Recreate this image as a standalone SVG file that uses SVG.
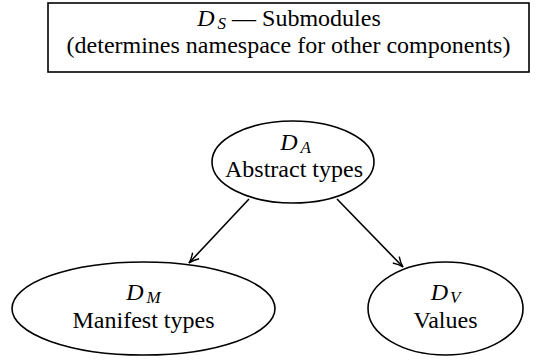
<svg xmlns="http://www.w3.org/2000/svg" width="537" height="360" viewBox="0 0 537 360">
<style>
text{font-family:"Liberation Serif","Times New Roman",serif;font-size:24px;fill:#000;text-anchor:middle}
.s{stroke:#000;stroke-width:1.6;fill:#fff}
.e{stroke:#000;stroke-width:1.6;fill:none}
.i{font-style:italic}
.sub{font-size:17px;font-style:italic}
</style>
<defs>
<marker id="ar" viewBox="0 0 12 12" refX="11" refY="6" markerWidth="12" markerHeight="12" markerUnits="userSpaceOnUse" orient="auto">
<path d="M1,1.5 Q6,5 11,6 Q6,7 1,10.5" fill="none" stroke="#000" stroke-width="1.4"/>
</marker>
</defs>
<rect width="537" height="360" fill="#fff"/>
<g id="ds">
<rect class="s" x="48" y="3" width="481" height="69"/>
<text x="289" y="26"><tspan class="i">D</tspan><tspan class="sub" dx="3" dy="3">S</tspan><tspan dy="-3"> — Submodules</tspan></text>
<text x="288.5" y="53">(determines namespace for other components)</text>
</g>
<g id="connectors">
<line class="e" x1="249" y1="199" x2="189" y2="263" marker-end="url(#ar)"/>
<line class="e" x1="337" y1="199" x2="403" y2="267" marker-end="url(#ar)"/>
</g>
<g id="da">
<ellipse class="s" cx="293" cy="162" rx="81" ry="41"/>
<text x="295.5" y="150"><tspan class="i">D</tspan><tspan class="sub" dx="3" dy="3">A</tspan></text>
<text x="294" y="177">Abstract types</text>
</g>
<g id="dm">
<ellipse class="s" cx="143.5" cy="308.5" rx="131.5" ry="46.5"/>
<text x="143.5" y="300"><tspan class="i">D</tspan><tspan class="sub" dx="3" dy="3">M</tspan></text>
<text x="143.5" y="328">Manifest types</text>
</g>
<g id="dv">
<ellipse class="s" cx="445.5" cy="308.5" rx="77.5" ry="46.5"/>
<text x="445.5" y="300"><tspan class="i">D</tspan><tspan class="sub" dx="2" dy="3">V</tspan></text>
<text x="445.5" y="328">Values</text>
</g>
</svg>
